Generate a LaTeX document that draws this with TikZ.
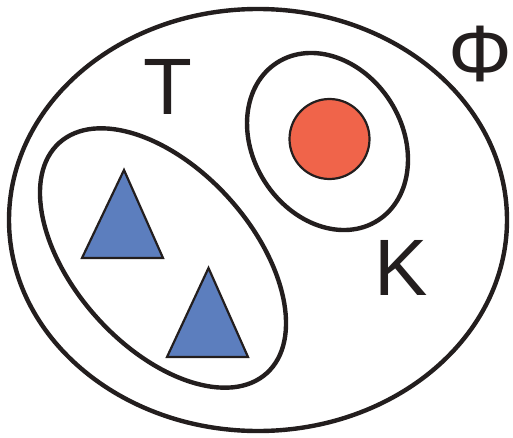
\documentclass[tikz,border=0pt]{standalone}
\usepackage{fontspec}
\setmainfont{Liberation Sans}
\definecolor{inkline}{RGB}{35,30,30}
\definecolor{redfill}{RGB}{240,100,74}
\definecolor{bluefill}{RGB}{92,126,190}
\tikzset{
  setline/.style={draw=inkline, line width=4.4pt},
  tri/.style={draw=inkline, line width=2.2pt, fill=bluefill, line join=miter},
  dot/.style={draw=inkline, line width=2.2pt, fill=redfill},
  lab/.style={font=\fontsize{80}{80}\selectfont, text=inkline, inner sep=0pt, anchor=base}
}
\begin{document}
\begin{tikzpicture}[x=1pt,y=1pt]
\useasboundingbox (0,0) rectangle (513,437);
% outer set
\draw[setline] (258,217) ellipse [x radius=249, y radius=211];
% set T
\draw[setline, rotate around={-48:(163,179)}] (163,179) ellipse [x radius=155, y radius=89];
% set K
\draw[setline, rotate around={-57.5:(327.5,295.5)}] (327.5,295.5) ellipse [x radius=93.6, y radius=74.5];
% red element
\draw[dot] (329.5,298) circle [radius=40];
% triangles
\draw[tri] (124,267) -- (82,179) -- (163,179) -- cycle;
\draw[tri] (208.5,169) -- (167,80) -- (248,80) -- cycle;
% labels
\node[lab] (t) at (168,322) {T};
\node[lab] (k) at (401,142) {K};
\node[lab] (phi) at (480,355) {Φ};
\end{tikzpicture}
\end{document}
